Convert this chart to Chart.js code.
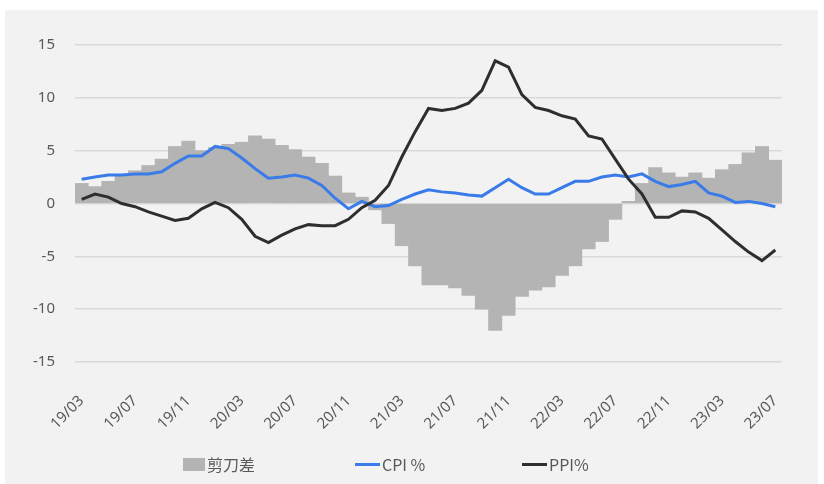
<!DOCTYPE html>
<html>
<head>
<meta charset="utf-8">
<script src="https://cdn.jsdelivr.net/npm/chart.js@4/dist/chart.umd.min.js"></script>
<style>
  html, body { margin: 0; padding: 0; background: #ffffff; }
  #wrap { position: relative; width: 824px; height: 484px; overflow: hidden; }
  #panel { position: absolute; left: 5px; top: 10px; right: 6px; bottom: 0; background: #f2f2f2; }
  #chart { position: absolute; left: 0; top: 0; }
  #legend {
    position: absolute; left: 0; top: 452px; width: 824px; height: 24px;
    font-family: "Noto Sans CJK SC", "Noto Sans", sans-serif; font-size: 16px; color: #595959;
  }
  .item { position: absolute; top: 0; display: flex; align-items: center; height: 24px; }
  .swatch-box { width: 22px; height: 13px; background: #b4b4b4; margin-right: 2px; }
  .swatch-line { width: 25px; height: 3px; margin-right: 2px; }
</style>
</head>
<body>
<div id="wrap">
  <div id="panel"></div>
  <canvas id="chart" width="824" height="484"></canvas>
  <div id="legend">
    <div class="item" style="left:183px"><span class="swatch-box"></span>剪刀差</div>
    <div class="item" style="left:355px"><span class="swatch-line" style="background:#3a7bea"></span>CPI %</div>
    <div class="item" style="left:522px"><span class="swatch-line" style="background:#2e2e2e"></span>PPI%</div>
  </div>
</div>
<script>
// 月份 2019/03 - 2023/07
const months = [
  "19/03", "19/04", "19/05", "19/06", "19/07", "19/08", "19/09", "19/10", "19/11", "19/12",
  "20/01", "20/02", "20/03", "20/04", "20/05", "20/06", "20/07", "20/08", "20/09", "20/10", "20/11", "20/12",
  "21/01", "21/02", "21/03", "21/04", "21/05", "21/06", "21/07", "21/08", "21/09", "21/10", "21/11", "21/12",
  "22/01", "22/02", "22/03", "22/04", "22/05", "22/06", "22/07", "22/08", "22/09", "22/10", "22/11", "22/12",
  "23/01", "23/02", "23/03", "23/04", "23/05", "23/06", "23/07",
];

const cpi = [
  2.3, 2.5, 2.7, 2.7, 2.8, 2.8, 3.0, 3.8, 4.5, 4.5,
  5.4, 5.2, 4.3, 3.3, 2.4, 2.5, 2.7, 2.4, 1.7, 0.5, -0.5, 0.2,
  -0.3, -0.2, 0.4, 0.9, 1.3, 1.1, 1.0, 0.8, 0.7, 1.5, 2.3, 1.5,
  0.9, 0.9, 1.5, 2.1, 2.1, 2.5, 2.7, 2.5, 2.8, 2.1, 1.6, 1.8,
  2.1, 1.0, 0.7, 0.1, 0.2, 0.0, -0.3,
];

const ppi = [
  0.4, 0.9, 0.6, 0.0, -0.3, -0.8, -1.2, -1.6, -1.4, -0.5,
  0.1, -0.4, -1.5, -3.1, -3.7, -3.0, -2.4, -2.0, -2.1, -2.1, -1.5, -0.4,
  0.3, 1.7, 4.4, 6.8, 9.0, 8.8, 9.0, 9.5, 10.7, 13.5, 12.9, 10.3,
  9.1, 8.8, 8.3, 8.0, 6.4, 6.1, 4.2, 2.3, 0.9, -1.3, -1.3, -0.7,
  -0.8, -1.4, -2.5, -3.6, -4.6, -5.4, -4.4,
];

// 剪刀差 (CPI - PPI)
const spread = [
  1.9, 1.6, 2.1, 2.7, 3.1, 3.6, 4.2, 5.4, 5.9, 5.0,
  5.3, 5.6, 5.8, 6.4, 6.1, 5.5, 5.1, 4.4, 3.8, 2.6, 1.0, 0.6,
  -0.6, -1.9, -4.0, -5.9, -7.7, -7.7, -8.0, -8.7, -10.0, -12.0, -10.6, -8.8,
  -8.2, -7.9, -6.8, -5.9, -4.3, -3.6, -1.5, 0.2, 1.9, 3.4, 2.9, 2.5,
  2.9, 2.4, 3.2, 3.7, 4.8, 5.4, 4.1,
];

const tickFont = { family: "'Noto Sans', 'Noto Sans CJK SC', sans-serif", size: 15 };

new Chart(document.getElementById("chart"), {
  type: "bar",
  data: {
    labels: months,
    datasets: [
      {
        type: "line",
        label: "PPI%",
        data: ppi,
        borderColor: "#2e2e2e",
        borderWidth: 3,
        pointRadius: 0,
        tension: 0,
        order: 0,
      },
      {
        type: "line",
        label: "CPI %",
        data: cpi,
        borderColor: "#3a7bea",
        borderWidth: 3,
        pointRadius: 0,
        tension: 0,
        order: 1,
      },
      {
        label: "剪刀差",
        data: spread,
        backgroundColor: "#b4b4b4",
        categoryPercentage: 1,
        barPercentage: 1,
        order: 2,
      },
    ],
  },
  options: {
    responsive: false,
    animation: false,
    layout: { padding: { left: 0, right: 42, top: 45, bottom: 0 } },
    plugins: {
      legend: { display: false },
      tooltip: { enabled: false },
    },
    scales: {
      x: {
        grid: { display: false },
        border: { display: false },
        ticks: {
          autoSkip: false,
          minRotation: 45,
          maxRotation: 45,
          padding: 22,
          color: "#595959",
          font: tickFont,
          callback: function (value, index) {
            return index % 4 === 0 ? months[index] : "";
          },
        },
        afterFit: (scale) => { scale.height = 122; },
      },
      y: {
        min: -15,
        max: 15,
        grid: { color: "#d9d9d9", lineWidth: 1.5, drawTicks: false },
        border: { display: false },
        ticks: {
          stepSize: 5,
          padding: 20,
          color: "#595959",
          font: tickFont,
        },
        afterFit: (scale) => { scale.width = 75; },
      },
    },
  },
});
</script>
</body>
</html>
